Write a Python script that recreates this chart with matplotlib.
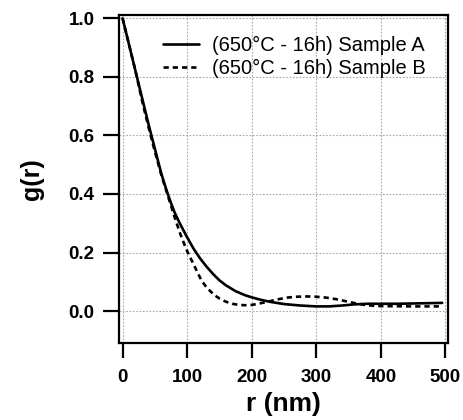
import matplotlib
matplotlib.use("Agg")
import matplotlib.pyplot as plt

# Data
r_a = [0, 5, 10, 15, 20, 25, 30, 35, 40, 45, 50, 55, 60, 65, 70, 75, 80, 85, 90, 95, 100,
       110, 120, 130, 140, 150, 160, 175, 190, 200, 215, 230, 250, 275, 300, 320, 340, 360,
       380, 400, 425, 450, 475, 495]
g_a = [1.0, 0.955, 0.91, 0.865, 0.82, 0.775, 0.73, 0.685, 0.64, 0.597, 0.555, 0.512, 0.47,
       0.434, 0.40, 0.369, 0.34, 0.316, 0.294, 0.273, 0.252,
       0.213, 0.18, 0.152, 0.127, 0.105, 0.088, 0.068, 0.054, 0.047, 0.038, 0.031, 0.024,
       0.019, 0.016, 0.016, 0.019, 0.023, 0.025, 0.025, 0.025, 0.026, 0.027, 0.028]

r_b = [0, 5, 10, 15, 20, 25, 30, 35, 40, 45, 50, 55, 60, 65, 70, 75, 80, 85, 90, 95, 100,
       105, 110, 116, 122, 128, 135, 142, 150, 160, 170, 180, 190, 200, 210, 225, 240, 255,
       270, 285, 300, 315, 330, 345, 360, 375, 390, 400, 450, 495]
g_b = [1.0, 0.955, 0.91, 0.865, 0.82, 0.77, 0.72, 0.675, 0.63, 0.587, 0.545, 0.505, 0.465,
       0.43, 0.395, 0.36, 0.325, 0.292, 0.26, 0.232, 0.205,
       0.182, 0.16, 0.132, 0.106, 0.087, 0.07, 0.055, 0.043, 0.032, 0.025, 0.021, 0.02,
       0.021, 0.025, 0.032, 0.04, 0.046, 0.049, 0.05, 0.049, 0.046, 0.041, 0.034, 0.027,
       0.021, 0.018, 0.017, 0.016, 0.016]

label_a = "(650°C - 16h) Sample A"
label_b = "(650°C - 16h) Sample B"
xticks = [0, 100, 200, 300, 400, 500]
yticks = [0.0, 0.2, 0.4, 0.6, 0.8, 1.0]

plt.rcParams['font.family'] = ['Liberation Sans', 'DejaVu Sans']

fig = plt.figure(figsize=(4.64, 4.2), dpi=100)
ax = fig.add_axes([119/464, 1 - 343/420, (448-119)/464, (343-15)/420])

ax.plot(r_a, g_a, color='black', lw=1.9, solid_capstyle='round',
        solid_joinstyle='round', label=label_a)
ax.plot(r_b, g_b, color='black', lw=1.9, linestyle=(0, (2.0, 1.5)), label=label_b)

ax.set_xlim(-5.5, 504)
ax.set_ylim(-0.109, 1.011)
ax.set_xticks(xticks)
ax.set_yticks(yticks)
ax.set_xticklabels([str(t) for t in xticks])
ax.set_yticklabels([f"{t:.1f}" for t in yticks])

ax.grid(True, color='#a8a8a8', linestyle=(0, (1.5, 1.5)), linewidth=0.8)
ax.set_axisbelow(True)

for s in ax.spines.values():
    s.set_linewidth(1.6)

ax.tick_params(axis='both', direction='out', width=1.6, labelsize=13.5)
ax.tick_params(axis='y', length=11.5, pad=6)
ax.tick_params(axis='x', length=10.8, pad=8)
for lab in ax.get_xticklabels() + ax.get_yticklabels():
    lab.set_fontweight('bold')

ax.set_xlabel("r (nm)", fontsize=19, fontweight='bold', labelpad=4)
ax.set_ylabel("g(r)", fontsize=18, fontweight='bold', labelpad=18)

leg = ax.legend(loc='upper left', bbox_to_anchor=(0.135, 0.935), frameon=False,
                fontsize=14.5, handlelength=1.75, handletextpad=0.65,
                labelspacing=0.2, borderpad=0, borderaxespad=0)

fig.savefig("out.png", dpi=100)
